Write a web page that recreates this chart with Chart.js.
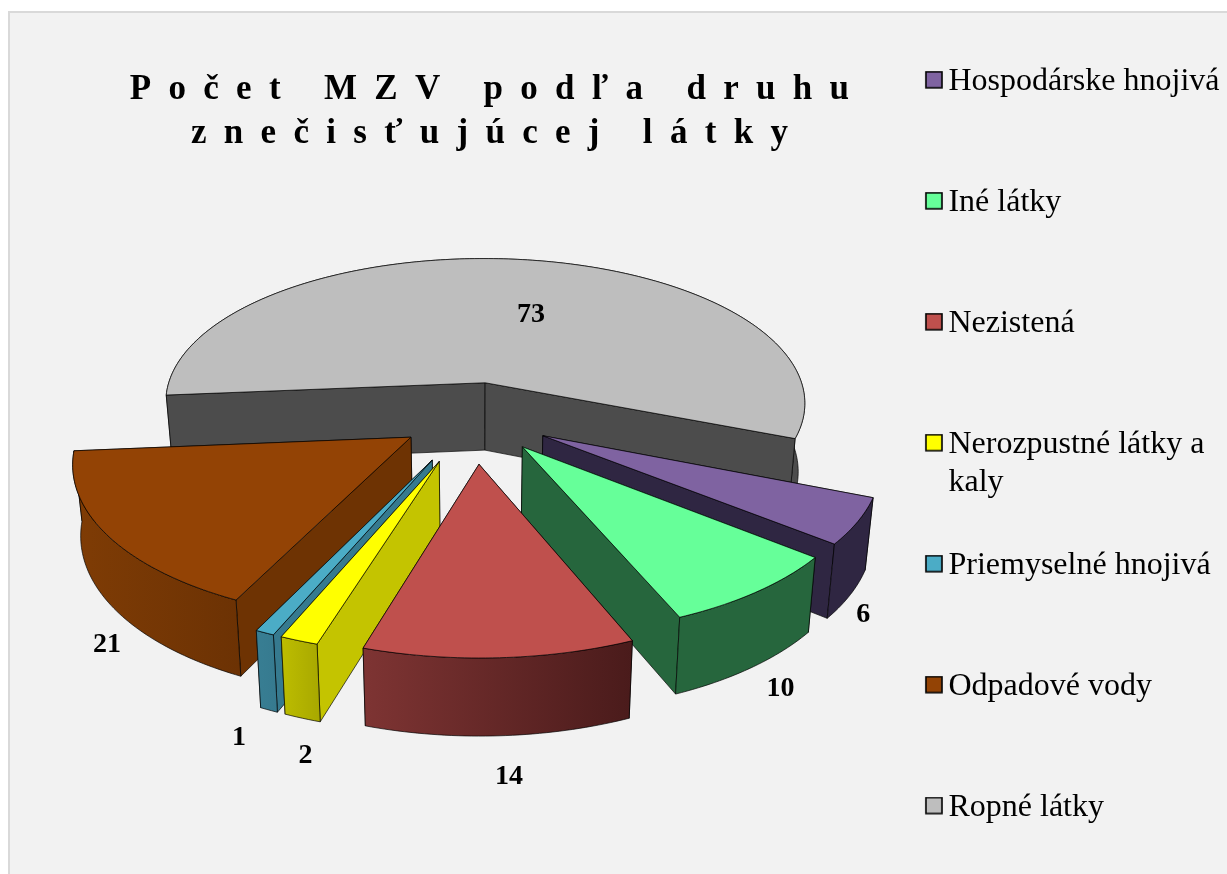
<!DOCTYPE html>
<html lang="sk">
<head>
<meta charset="utf-8">
<script src="https://cdn.jsdelivr.net/npm/chart.js@4"></script>
<style>
html,body{margin:0;padding:0;background:#fff;width:1227px;height:874px;overflow:hidden}
#panel{position:absolute;left:8px;top:11px;width:1240px;height:900px;background:#f2f2f2;border:2px solid #d9d9d9}
canvas{position:absolute;left:0;top:0}
</style>
</head>
<body>
<div id="panel"></div>
<canvas id="c" width="1227" height="874"></canvas>
<script>
// ---- data ----
const categories = ['Hospodárske hnojivá','Iné látky','Nezistená','Nerozpustné látky a kaly','Priemyselné hnojivá','Odpadové vody','Ropné látky'];
const values = [6,10,14,2,1,21,73];
const titleLines = ['Počet MZV podľa druhu','znečisťujúcej látky'];

// ---- style ----
const topColors = ['#7f63a1','#66ff99','#bf504d','#ffff00','#4bacc6','#934305','#bebebe'];
const radialColors = ['#2f2642','#26663d','#5a2624','#c4c400','#367a8f','#6e3303','#4c4c4c'];
const outerFrom = ['#2f2642','#26663d','#7e3433','#bdbd00','#387e93','#7f3c05','#4c4c4c'];
const outerTo = ['#2f2642','#26663d','#4a1b1b','#a8a800','#367a8f','#6c3204','#4c4c4c'];
const explode = [0.24,0.24,0.30,0.30,0.30,0.23,0.237];
const labelNudgeX = [13,29,10,3,-30,-7,7];
const labelNudgeY = [20,21,41,38,28,36,-5];
const SERIF = '"Liberation Serif","Times New Roman",serif';

// ---- tilted-plane projection of the library's arc angles ----
const CX = 474, CY = 417, RX = 327, RY = 151, DEPTH = 7, BASE_X = 0.98;
function project(px, pf, bottom){
  const s = 1 / (1 - pf / DEPTH);
  let x = CX + RX * px * s, y = CY + RY * pf * s;
  if (bottom){ x = CX + (x - CX) * BASE_X; y += 69 + 7 * pf; }
  return {x, y, pf};
}
function polygon(ctx, pts, fill){
  ctx.beginPath();
  pts.forEach((p,i)=> i ? ctx.lineTo(p.x,p.y) : ctx.moveTo(p.x,p.y));
  ctx.closePath();
  ctx.fillStyle = fill; ctx.fill();
  ctx.strokeStyle = 'rgba(0,0,0,0.85)'; ctx.lineWidth = 0.8; ctx.lineJoin = 'round'; ctx.stroke();
}
const pie3d = {
  id:'pie3d',
  afterLayout(chart){
    const t = chart.titleBlock;
    if (t && !t.__spaced){
      const draw = t.draw;
      t.draw = function(){ chart.ctx.letterSpacing = '17.3px'; draw.call(this); chart.ctx.letterSpacing = '0px'; };
      t.__spaced = true;
    }
  },
  beforeDatasetDraw(chart, args){
    const ctx = chart.ctx;
    const slices = args.meta.data.map((arc,i)=>{
      const {startAngle:a0,endAngle:a1} = arc.getProps(['startAngle','endAngle'], true);
      const mid = (a0 + a1) / 2, e = explode[i];
      const ox = Math.cos(mid) * e, of = Math.sin(mid) * e;
      return {i,a0,a1,mid,ox,of};
    }).sort((a,b)=>a.of-b.of);

    slices.forEach(sl=>{
      const {i,a0,a1,ox,of} = sl;
      const n = Math.max(2, Math.ceil((a1-a0)/(Math.PI/180)));
      const topArc = [], botArc = [];
      for (let k=0;k<=n;k++){
        const a = a0 + (a1-a0)*k/n, px = Math.cos(a)+ox, pf = Math.sin(a)+of;
        topArc.push(project(px,pf,false));
        botArc.push(project(px,pf,true));
      }
      const apexT = project(ox,of,false), apexB = project(ox,of,true);
      const minX = Math.min(...topArc.map(p=>p.x),...botArc.map(p=>p.x));
      const maxX = Math.max(...topArc.map(p=>p.x),...botArc.map(p=>p.x));
      const grad = ctx.createLinearGradient(minX,0,maxX,0);
      grad.addColorStop(0,outerFrom[i]); grad.addColorStop(1,outerTo[i]);
      const mean = a => a.reduce((t,p)=>t+p.pf,0)/a.length;
      const walls = [
        {pts:[apexT,topArc[0],botArc[0],apexB], fill:radialColors[i], d:(apexT.pf+topArc[0].pf)/2},
        {pts:[apexT,topArc[n],botArc[n],apexB], fill:radialColors[i], d:(apexT.pf+topArc[n].pf)/2},
        {pts:[...topArc,...botArc.slice().reverse()], fill:grad, d:mean(topArc)}
      ].sort((a,b)=>a.d-b.d);
      walls.forEach(w=>polygon(ctx,w.pts,w.fill));
      polygon(ctx,[apexT,...topArc],topColors[i]);
    });

    // value labels, anchored to the foot of each slice's outer wall
    ctx.save();
    ctx.font = 'bold 28px '+SERIF; ctx.fillStyle = '#000';
    ctx.textAlign = 'center'; ctx.textBaseline = 'middle';
    slices.forEach(sl=>{
      const p = project(Math.cos(sl.mid)+sl.ox, Math.sin(sl.mid)+sl.of, true);
      ctx.fillText(String(values[sl.i]), p.x+labelNudgeX[sl.i], p.y+labelNudgeY[sl.i]);
    });
    ctx.restore();
    return false;
  }
};

// legend marker
function marker(color){
  const c = document.createElement('canvas'); c.width = 28; c.height = 22;
  const g = c.getContext('2d');
  g.fillStyle = color; g.fillRect(11,1,16,16);
  g.strokeStyle = '#000'; g.lineWidth = 1.6; g.strokeRect(11,1,16,16);
  return c;
}
// wrap long legend names onto a second line; entries carry two lines so the rows stay even
function wrapLabel(ctx, text, maxW, isLast){
  ctx.save(); ctx.font = '32px '+SERIF;
  const words = text.split(' '); const lines = [''];
  words.forEach(w=>{
    const t = lines[lines.length-1] ? lines[lines.length-1]+' '+w : w;
    if (ctx.measureText(t).width > maxW && lines[lines.length-1]) lines.push(w);
    else lines[lines.length-1] = t;
  });
  ctx.restore();
  if (lines.length < 2 && isLast) return lines[0];
  if (lines.length < 2) lines.push('');
  return lines;
}

new Chart(document.getElementById('c'), {
  type:'pie',
  data:{labels:categories, datasets:[{data:values, backgroundColor:topColors, borderColor:'#000', borderWidth:1}]},
  plugins:[pie3d],
  options:{
    responsive:false, animation:false, rotation:112,
    layout:{padding:{left:115.5,right:-2.5,top:21,bottom:0}},
    plugins:{
      tooltip:{enabled:false},
      title:{
        display:true, text:titleLines, fullSize:false, color:'#000',
        font:{family:SERIF,size:35,weight:'bold',lineHeight:1.26},
        padding:{top:46.5,bottom:0}
      },
      legend:{
        position:'right', align:'start',
        labels:{
          color:'#000', font:{family:SERIF,size:32,lineHeight:1.19},
          usePointStyle:true, pointStyleWidth:7, padding:44.8,
          generateLabels(chart){
            const last = chart.data.labels.length-1;
            return chart.data.labels.map((l,i)=>({
              text:wrapLabel(chart.ctx,l,290,i===last),
              fillStyle:topColors[i], strokeStyle:'#000', lineWidth:1,
              pointStyle:marker(topColors[i]), hidden:false, index:i, fontColor:'#000'
            }));
          }
        }
      }
    }
  }
});
</script>
</body>
</html>
